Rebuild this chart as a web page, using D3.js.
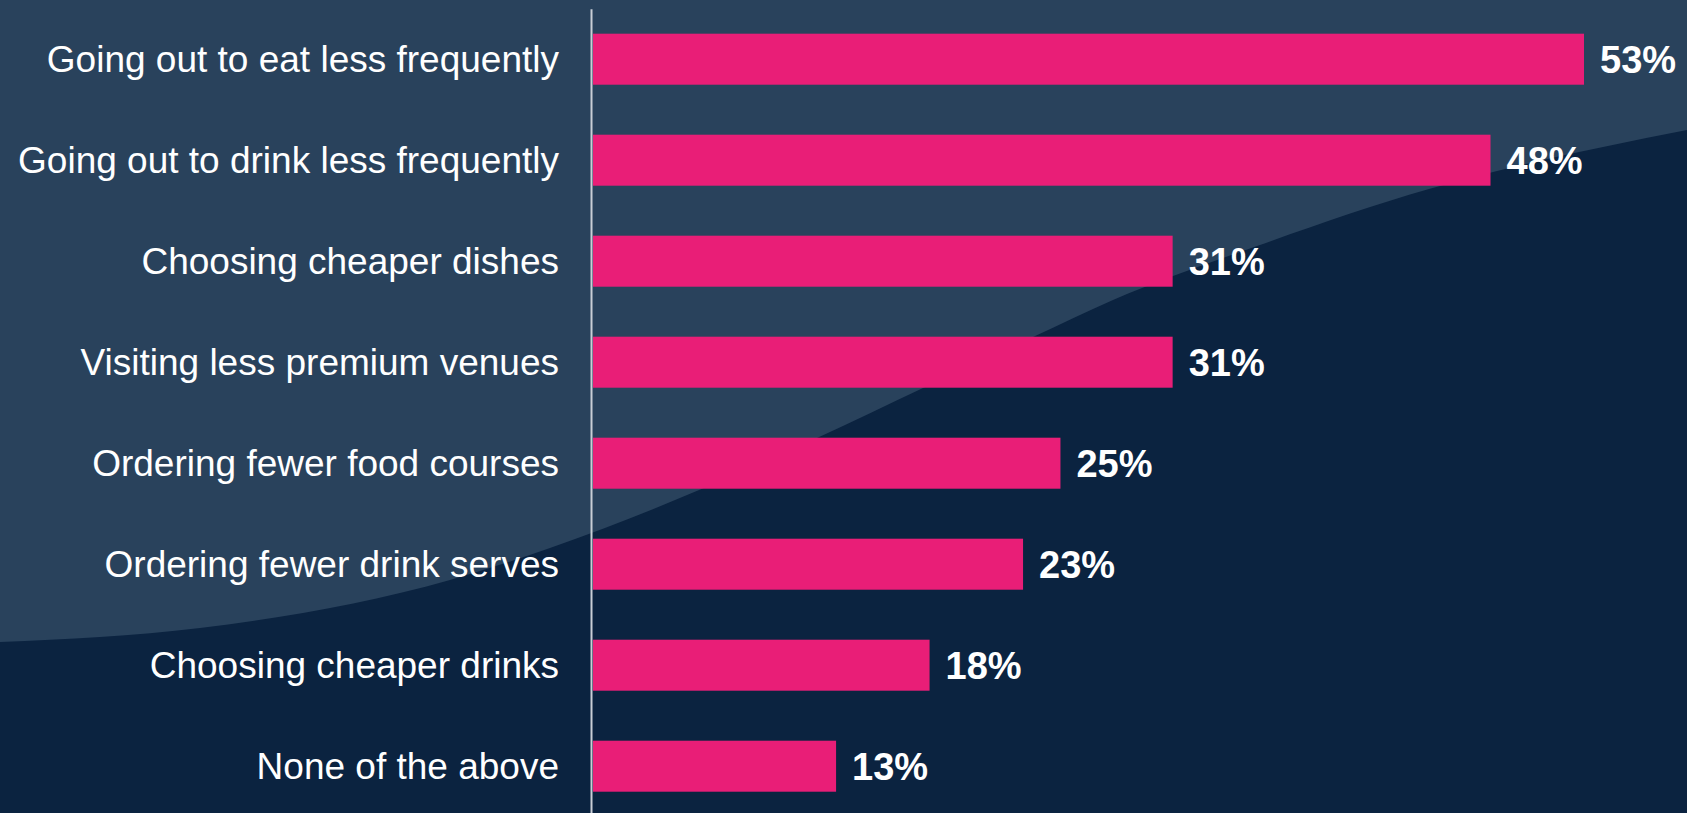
<!DOCTYPE html>
<html>
<head>
<meta charset="utf-8">
<script src="https://cdn.jsdelivr.net/npm/d3@7"></script>
<style>
  html, body { margin: 0; padding: 0; background: #0b2340; overflow: hidden; }
  svg { display: block; }
</style>
</head>
<body>
<svg id="chart" width="1687" height="813"></svg>
<script>
// Survey answers, in display order (top to bottom)
const categories = [
  "Going out to eat less frequently",
  "Going out to drink less frequently",
  "Choosing cheaper dishes",
  "Visiting less premium venues",
  "Ordering fewer food courses",
  "Ordering fewer drink serves",
  "Choosing cheaper drinks",
  "None of the above"
];
const values = [53, 48, 31, 31, 25, 23, 18, 13];

// Decorative backdrop: lighter sweep in the upper-left
const sweep = [
  [0, 642], [200, 628], [450, 580], [550, 548], [817, 438],
  [923, 388], [1033, 337], [1113, 300], [1257, 246],
  [1429, 189], [1497, 171], [1687, 130]
];

const W = 1687, H = 813;
const svg = d3.select("#chart");

svg.append("rect").attr("width", W).attr("height", H).attr("fill", "#0b2340");

const sweepLine = d3.line().curve(d3.curveMonotoneX);
svg.append("path")
  .attr("d", sweepLine(sweep) + `L${W},0L0,0Z`)
  .attr("fill", "#29425c");

const x = d3.scaleLinear().domain([0, 53]).range([593, 1584]);
const y = d3.scaleBand()
  .domain(categories)
  .range([8.7, 816.7])
  .paddingInner(0.495)
  .paddingOuter(0.2475);

// Bars
svg.append("g")
  .selectAll("rect")
  .data(values)
  .join("rect")
  .attr("x", x(0))
  .attr("y", (d, i) => y(categories[i]))
  .attr("width", d => x(d) - x(0))
  .attr("height", y.bandwidth())
  .attr("fill", "#e91e77");

// Category axis
const axis = svg.append("g")
  .attr("transform", "translate(591,0)")
  .call(d3.axisLeft(y).tickSize(0).tickPadding(32));
axis.select(".domain").attr("stroke", "#c9ced6").attr("stroke-width", 2);
axis.selectAll("text")
  .attr("fill", "#ffffff")
  .attr("font-family", "'Liberation Sans', Arial, Helvetica, sans-serif")
  .attr("font-size", 37)
  .attr("dy", "0.34em");

// Value labels
svg.append("g")
  .selectAll("text")
  .data(values)
  .join("text")
  .attr("x", d => x(d) + 16)
  .attr("y", (d, i) => y(categories[i]) + y.bandwidth() / 2)
  .attr("dy", "0.36em")
  .attr("fill", "#ffffff")
  .attr("font-family", "'Liberation Sans', Arial, Helvetica, sans-serif")
  .attr("font-weight", "bold")
  .attr("font-size", 38)
  .text(d => d + "%");
</script>
</body>
</html>
